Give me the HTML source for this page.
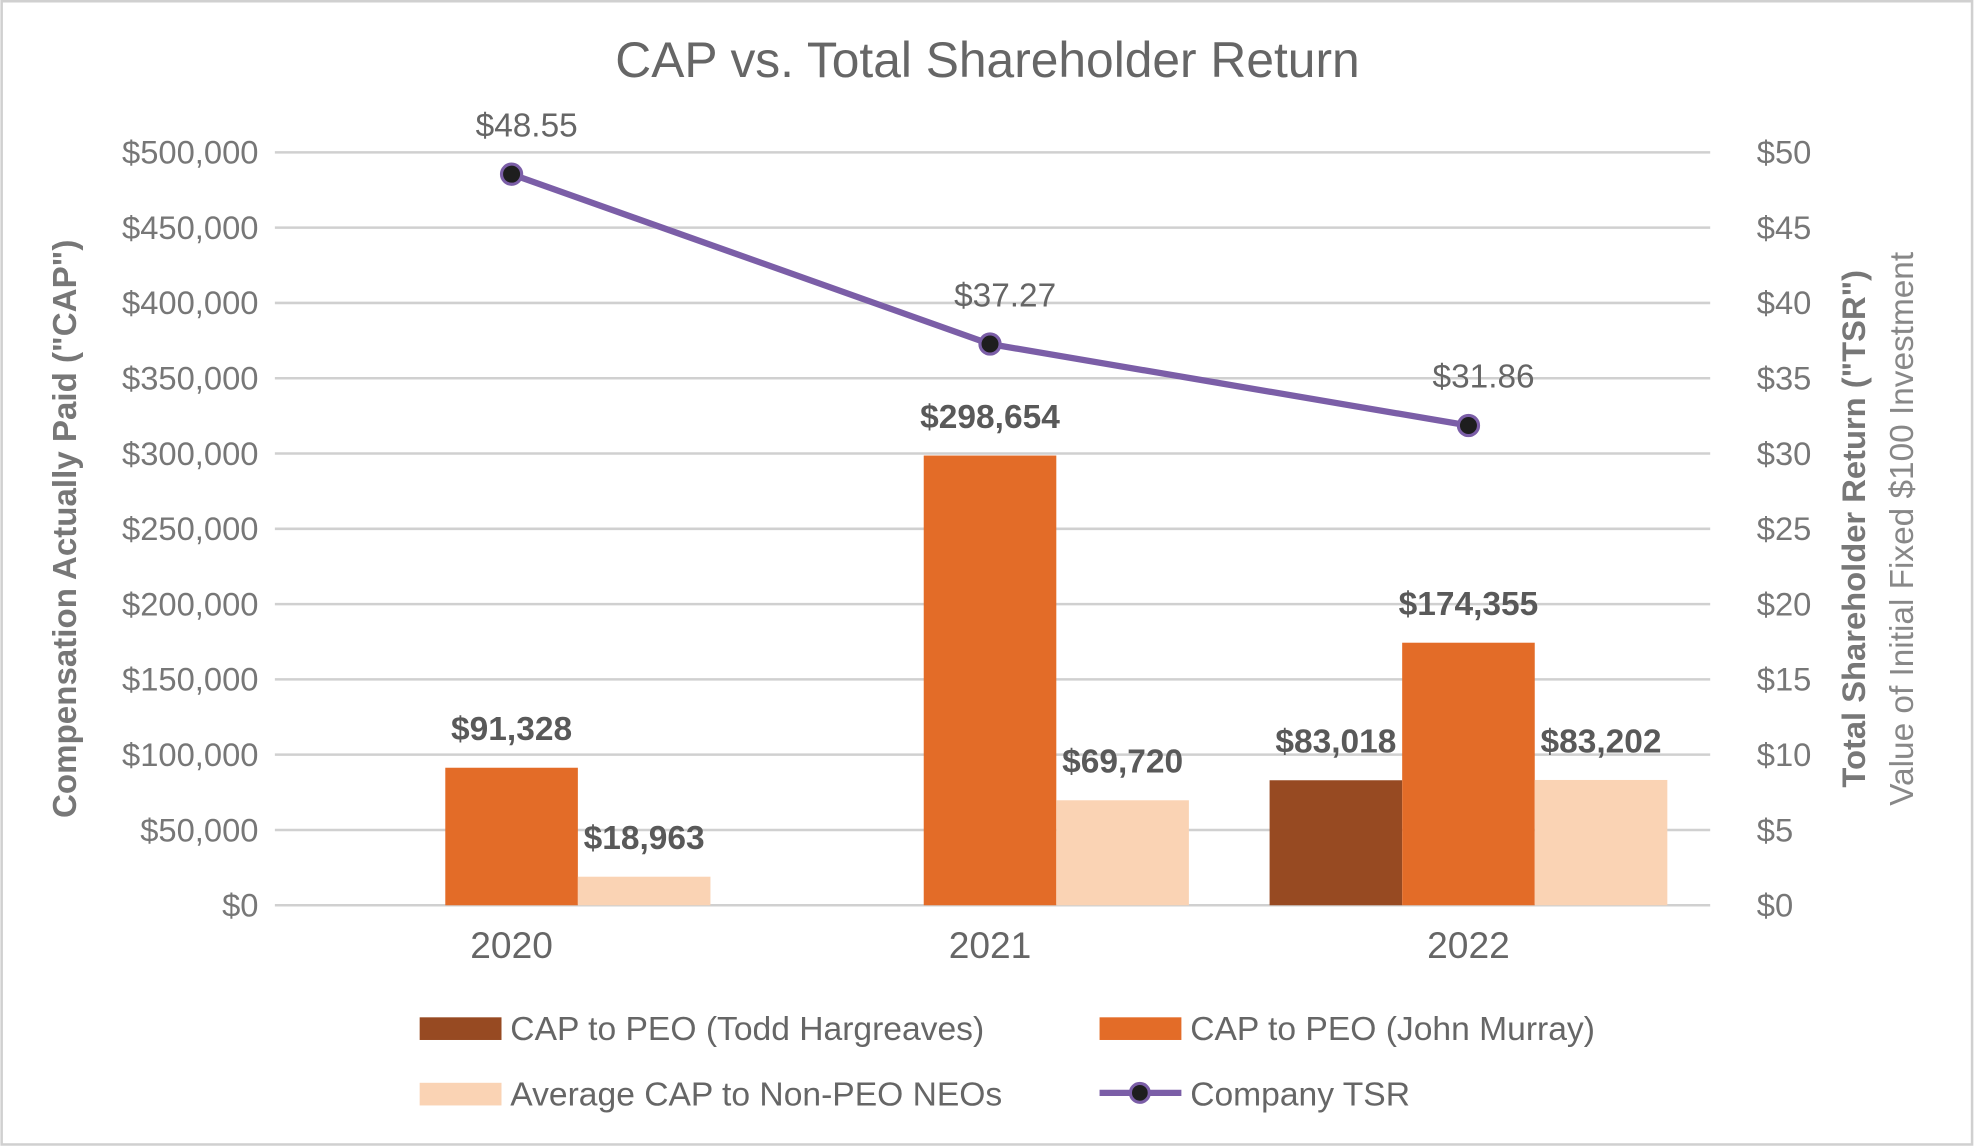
<!DOCTYPE html>
<html><head><meta charset="utf-8"><style>
html,body{margin:0;padding:0;background:#fff}
svg{display:block;font-family:"Liberation Sans",Arial,sans-serif}
</style></head><body>
<svg id="chart" width="1975" height="1147" viewBox="0 0 1568 911" xmlns="http://www.w3.org/2000/svg">
<rect x="1" y="1" width="1565" height="908" fill="#fff" stroke="#d0d0d0" stroke-width="2"/>
<text x="784" y="61" text-anchor="middle" font-size="39.5" fill="#666">CAP vs. Total Shareholder Return</text>
<g id="grid"></g><g id="bars"></g><g id="line"></g><g id="labels"></g>
<text transform="translate(60,420) rotate(-90)" text-anchor="middle" font-size="26.3" font-weight="bold" fill="#777">Compensation Actually Paid ("CAP")</text>
<text transform="translate(1481,420) rotate(-90)" text-anchor="middle" font-size="26" font-weight="bold" fill="#777">Total Shareholder Return ("TSR")</text>
<text transform="translate(1519,420) rotate(-90)" text-anchor="middle" font-size="26.5" fill="#888">Value of Initial Fixed $100 Investment</text>
<g>
<rect x="333" y="808" width="65" height="18" fill="#974a22"/>
<text x="405" y="826" font-size="26.7" fill="#666">CAP to PEO (Todd Hargreaves)</text>
<rect x="873" y="808" width="65" height="18" fill="#e36c28"/>
<text x="945" y="826" font-size="26.7" fill="#666">CAP to PEO (John Murray)</text>
<rect x="333" y="860" width="65" height="18" fill="#fad3b4"/>
<text x="405" y="878" font-size="26.7" fill="#666">Average CAP to Non-PEO NEOs</text>
<line x1="873" y1="868" x2="938" y2="868" stroke="#7b5ea7" stroke-width="5"/>
<circle cx="905" cy="868" r="7.5" fill="#1e1e1e" stroke="#7b5ea7" stroke-width="2.5"/>
<text x="945" y="878" font-size="26.7" fill="#666">Company TSR</text>
</g>
</svg>
<script>
const categories = ["2020","2021","2022"];
const capTodd = [null, null, 83018];
const capJohn = [91328, 298654, 174355];
const capNeo = [18963, 69720, 83202];
const tsr = [48.55, 37.27, 31.86];
const leftTicks = [0,50000,100000,150000,200000,250000,300000,350000,400000,450000,500000];
const rightTicks = [0,5,10,15,20,25,30,35,40,45,50];

const NS="http://www.w3.org/2000/svg";
const X0=218,X1=1358,Y0=719,Y1=121;
const yL=v=>Y0-(v/500000)*(Y0-Y1);
const yR=v=>Y0-(v/50)*(Y0-Y1);
const band=(X1-X0)/categories.length;
const xC=i=>X0+band*(i+0.5);
const BW=105.3;
function mk(tag,attrs,parent,text){const e=document.createElementNS(NS,tag);for(const k in attrs)e.setAttribute(k,attrs[k]);if(text!==undefined)e.textContent=text;document.getElementById(parent).appendChild(e);return e;}
const fmt=v=>"$"+v.toLocaleString("en-US");

leftTicks.forEach((t,i)=>{
  const y=yL(t);
  let g=mk("line",{x1:X0,x2:X1,y1:y,y2:y,stroke:"#d0d0d0","stroke-width":2},"grid");
  
  
  let a=mk("text",{x:205,y:y+9,"text-anchor":"end","font-size":26,fill:"#777"},"grid",fmt(t));
  
  
});
rightTicks.forEach(t=>{
  let a=mk("text",{x:1395,y:yR(t)+9,"font-size":26,fill:"#777"},"grid","$"+t);
  
  
});
categories.forEach((c,i)=>{
  let a=mk("text",{x:xC(i)-2,y:761,"text-anchor":"middle","font-size":29.5,fill:"#666"},"grid",c);
  
  
});
const series=[[capTodd,"#974a22","todd"],[capJohn,"#e36c28","john"],[capNeo,"#fad3b4","neo"]];
series.forEach(([vals,col,nm],s)=>{
  vals.forEach((v,i)=>{
    if(v==null)return;
    const x=xC(i)-2+(s-1.5)*BW, y=yL(v);
    let r=mk("rect",{x:x,y:y,width:BW,height:Y0-y,fill:col},"bars");
    
    
    let t=mk("text",{x:x+BW/2,y:y-22,"text-anchor":"middle","font-size":26.6,"font-weight":"bold",fill:"#595959"},"labels",fmt(v));
    
    
  });
});
const pts=tsr.map((v,i)=>[xC(i)-2,yR(v)]);
let pl=mk("polyline",{points:pts.map(p=>p.join(",")).join(" "),fill:"none",stroke:"#7b5ea7","stroke-width":5},"line");


pts.forEach((p,i)=>{
  let c=mk("circle",{cx:p[0],cy:p[1],r:8,fill:"#1e1e1e",stroke:"#7b5ea7","stroke-width":2.5},"line");
  
  
  let t=mk("text",{x:p[0]+12,y:p[1]-30,"text-anchor":"middle","font-size":26.5,fill:"#666"},"labels","$"+tsr[i].toFixed(2));
  
  
});
</script>
</body></html>
